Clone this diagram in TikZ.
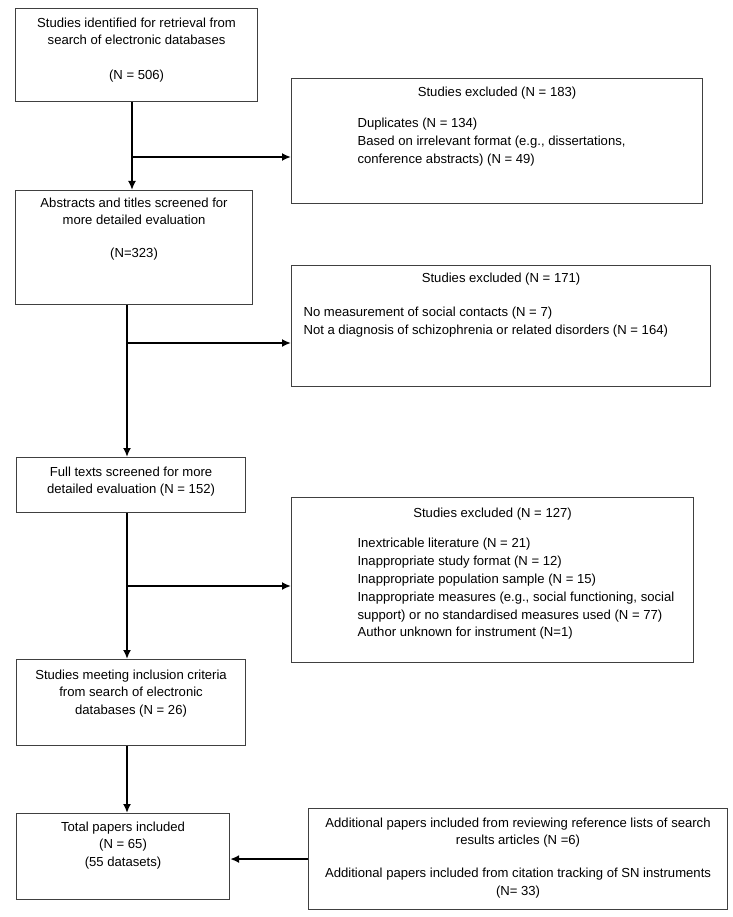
\documentclass[tikz,border=0pt]{standalone}
\usepackage{fontspec}
\setmainfont{Liberation Sans}
\usetikzlibrary{arrows.meta}
\tikzset{flowbox/.style={draw=black!75, line width=1.1pt, inner sep=0pt, anchor=north west},
  flowline/.style={line width=1.8pt, -{Latex[length=9pt,width=8pt]}}}
% fixed size box body: width, height, top gap, text
\newcommand{\boxbody}[4]{\parbox[c][#2][t]{#1}{\vspace*{#3}#4}}

\begin{document}
\begin{tikzpicture}[x=1pt, y=-1pt, font=\fontsize{13.1}{17.8}\selectfont]
      \useasboundingbox (0,0) rectangle (732,917);

      % left column
      \node [flowbox] (ident) at (15,8) {\boxbody{242pt}{93pt}{9pt}{\centering
        Studies identified for retrieval from\\ search of electronic databases\\[17pt] (N = 506)}};
      \node [flowbox] (screen) at (15,190) {\boxbody{237pt}{114pt}{7pt}{\centering
        Abstracts and titles screened for\\ more detailed evaluation\\[15pt] (N=323)}};
      \node [flowbox] (full) at (16,457) {\boxbody{229pt}{55pt}{9pt}{\centering
        Full texts screened for more\\ detailed evaluation (N = 152)}};
      \node [flowbox] (meet) at (16,659) {\boxbody{229pt}{86pt}{10pt}{\centering
        Studies meeting inclusion criteria\\ from search of electronic\\ databases (N = 26)}};
      \node [flowbox] (total) at (16,813) {\boxbody{213pt}{86pt}{8pt}{\centering
        Total papers included\\ (N = 65)\\ (55 datasets)}};

      % right column
      \node [flowbox] (excl1) at (291,78) {\boxbody{411pt}{125pt}{8pt}{%
        {\centering Studies excluded (N = 183)\par}\vspace{14pt}
        {\leftskip=66pt Duplicates (N = 134)\\ Based on irrelevant format (e.g., dissertations,\\
        conference abstracts) (N = 49)\par}}};
      \node [flowbox] (excl2) at (291,265) {\boxbody{419pt}{121pt}{7pt}{%
        {\centering Studies excluded (N = 171)\par}\vspace{17pt}
        {\leftskip=12pt No measurement of social contacts (N = 7)\\
        Not a diagnosis of schizophrenia or related disorders (N = 164)\par}}};
      \node [flowbox] (excl3) at (291,497) {\boxbody{402pt}{165pt}{10pt}{%
        {\centering Studies excluded (N = 127)\par}\vspace{13pt}
        {\leftskip=66pt Inextricable literature (N = 21)\\
        Inappropriate study format (N = 12)\\
        Inappropriate population sample (N = 15)\\
        Inappropriate measures (e.g., social functioning, social\\
        support) or no standardised measures used (N = 77)\\
        Author unknown for instrument (N=1)\par}}};
      \node [flowbox] (extra) at (308,808) {\boxbody{419pt}{101pt}{9pt}{\centering
        Additional papers included from reviewing reference lists of search\\
        results articles (N =6)\\[15pt]
        Additional papers included from citation tracking of SN instruments\\ (N= 33)}};

      % connectors
      \coordinate (split1) at (132,157);
      \coordinate (split2) at (127,343);
      \coordinate (split3) at (127,586);
      \draw [flowline] (ident.south -| split1) -- (screen.north -| split1);
      \draw [flowline] (split1) -- (split1 -| excl1.west);
      \draw [flowline] (screen.south -| split2) -- (full.north -| split2);
      \draw [flowline] (split2) -- (split2 -| excl2.west);
      \draw [flowline] (full.south -| split3) -- (meet.north -| split3);
      \draw [flowline] (split3) -- (split3 -| excl3.west);
      \draw [flowline] (meet.south -| split3) -- (total.north -| split3);
      \draw [flowline] (extra.west) -- (extra.west -| total.east);
    \end{tikzpicture}
\end{document}
